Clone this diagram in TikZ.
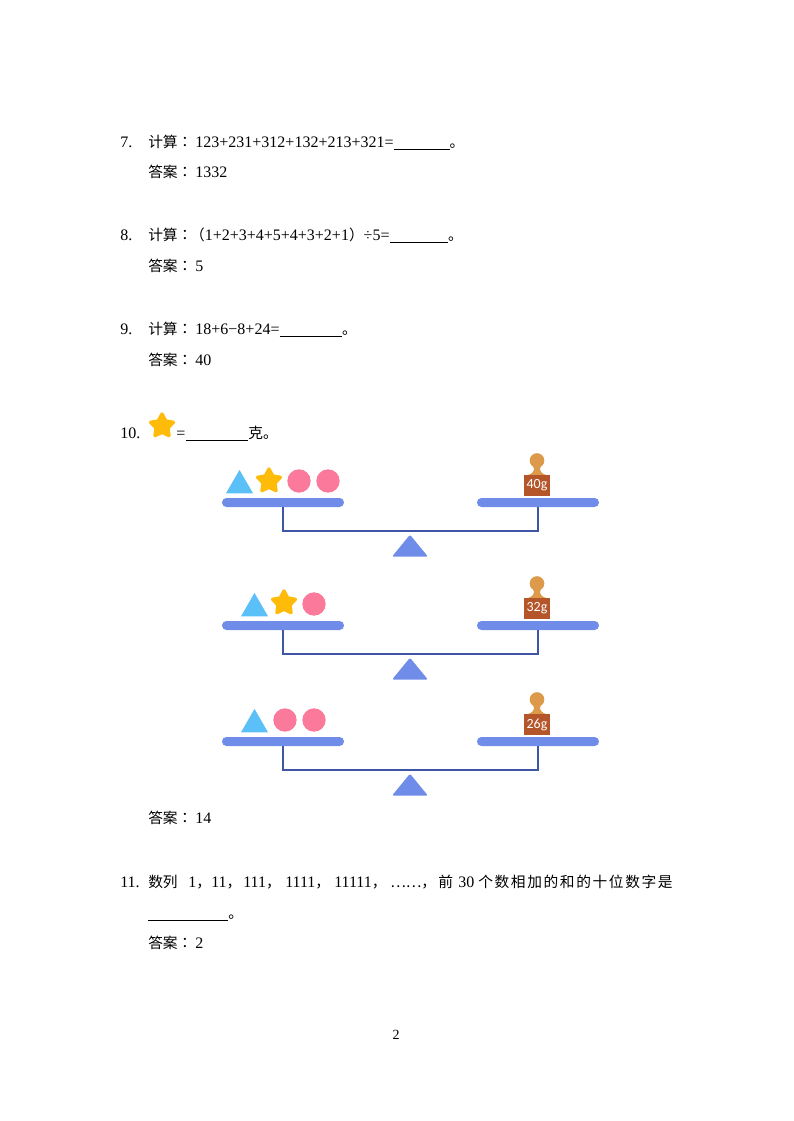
\documentclass[tikz,border=0pt]{standalone}
\usepackage{fontspec}
\setmainfont{Liberation Serif}
\newfontfamily\cjk[Scale=0.92]{Noto Sans CJK SC}
\newfontfamily\cjkwide[Scale=0.92,LetterSpace=11]{Noto Sans CJK SC}
\newfontfamily\cjkcolon[Scale=0.92]{Noto Sans CJK TC}
\newfontfamily\weightfont{Carlito}
\usetikzlibrary{shapes, positioning}
\definecolor{panblue}{HTML}{6F8CE8}
\definecolor{armblue}{HTML}{3F56A6}
\definecolor{skyblue}{HTML}{5BC0F8}
\definecolor{stargold}{HTML}{FFBB0A}
\definecolor{ballpink}{HTML}{FB7A9C}
\definecolor{boxbrown}{HTML}{B5562A}
\definecolor{headgold}{HTML}{DC9A4A}
\newcommand{\zh}[1]{{\cjk #1}}
\newcommand{\zhcolon}{{\cjkcolon ：}\hspace{2.25pt}}
\newcommand{\blank}[1]{\underline{\hspace{#1}}}
\tikzstyle{txt} = [anchor=base west, inner sep=0pt, font=\fontsize{12pt}{14pt}\selectfont]
\tikzstyle{pan} = [rectangle, rounded corners=3.3pt, minimum width=91.5pt, minimum height=6.75pt, inner sep=0pt, fill=panblue]
\tikzstyle{arm} = [draw=armblue, line width=1.5pt]
\tikzstyle{pivot} = [isosceles triangle, isosceles triangle stretches, shape border rotate=90, minimum width=27pt, minimum height=16.5pt, inner sep=0pt, rounded corners=1.5pt, fill=panblue]
\tikzstyle{tri} = [regular polygon, regular polygon sides=3, minimum size=23.4pt, inner sep=0pt, fill=skyblue]
\tikzstyle{starry} = [star, star points=5, star point ratio=1.9, minimum size=18pt, inner sep=0pt, fill=stargold, draw=stargold, line width=2.5pt, line join=round]
\tikzstyle{ball} = [circle, minimum size=17.5pt, inner sep=0pt, fill=ballpink]
\tikzstyle{weightbox} = [rectangle, minimum width=19.5pt, minimum height=15.5pt, inner sep=0pt, fill=boxbrown, text=white, font=\weightfont\fontsize{10.5pt}{11pt}\selectfont]
\tikzstyle{head} = [circle, minimum size=11pt, inner sep=0pt, fill=headgold]

\begin{document}
\begin{tikzpicture}[x=0.75pt, y=-0.75pt]
    \useasboundingbox (0, 0) rectangle (793, 1121);

    % questions 7 to 9
    \node (num7) [txt] at (120, 147) {7.};
    \node (line7) [txt] at (148, 147) {\zh{计算}\zhcolon 123+231+312+132+213+321=\blank{42pt}\zh{。}};
    \node (ans7) [txt] at (148, 177) {\zh{答案}\zhcolon 1332};

    \node (num8) [txt] at (120, 240) {8.};
    \node (line8) [txt] at (148, 240) {\zh{计算}\zhcolon\kern-4pt\zh{（}1+2+3+4+5+4+3+2+1\zh{）}÷5=\blank{44pt}\zh{。}};
    \node (ans8) [txt] at (148, 271) {\zh{答案}\zhcolon 5};

    \node (num9) [txt] at (120, 334) {9.};
    \node (line9) [txt] at (148, 334) {\zh{计算}\zhcolon 18+6−8+24=\blank{47pt}\zh{。}};
    \node (ans9) [txt] at (148, 365) {\zh{答案}\zhcolon 40};

    % question 10
    \node (num10) [txt] at (120, 438) {10.};
    \node (star0) [starry] at (162, 426) {};
    \node (line10) [txt] at (176, 438) {=\kern.75pt\blank{46.5pt}\zh{克。}};

    % the three balances
    \foreach \y/\grams in {498/40g, 621/32g, 737/26g} {
        \node (panL\y) [pan] at (283, \y+4.5) {};
        \node (panR\y) [pan] at (538, \y+4.5) {};
        \draw [arm] (panL\y.south) -- ++(0, 24) -| (panR\y.south);
        \node (pivot\y) [pivot, anchor=apex] at (410, \y+36) {};

        \fill [headgold] (528, \y-23) .. controls (532, \y-24) and (534, \y-27) .. (534, \y-29)
            .. controls (534, \y-31) and (532, \y-33) .. (532, \y-34) -- (542, \y-34)
            .. controls (542, \y-33) and (540, \y-31) .. (540, \y-29)
            .. controls (540, \y-27) and (542, \y-24) .. (546, \y-23) -- cycle;
        \node (head\y) [head] at (537, \y-37.5) {};
        \node (box\y) [weightbox] at (537, \y-12.5) {\grams};
    }

    % what stands on the left pans
    \node (tri1) [tri] at (239.5, 485.5) {};
    \node (star1) [starry] at (269, 481) {};
    \node (ball1) [ball] at (299, 481) {};
    \node (ball2) [ball] at (328, 481) {};

    \node (tri2) [tri] at (254.5, 608.5) {};
    \node (star2) [starry] at (284, 603) {};
    \node (ball3) [ball] at (314, 604) {};

    \node (tri3) [tri] at (254.5, 724.5) {};
    \node (ball4) [ball] at (285, 720) {};
    \node (ball5) [ball] at (314, 720) {};

    % answer and question 11
    \node (ans10) [txt] at (148, 823) {\zh{答案}\zhcolon 14};
    \node (num11) [txt] at (120, 887) {11.};
    \node (line11) [txt] at (148, 887) {\zh{数列}};
    \foreach \x/\part in {188/1, 211/11, 243/111, 285/1111, 334/11111} {
        \node (seq\x) [txt] at (\x, 887) {\part\zh{，}};
    }
    \node (dots11) [txt] at (390, 887) {\zh{……，}};
    \node (front11) [txt] at (438, 887) {\zh{前}};
    \node (count11) [txt] at (458, 887) {30};
    \node (rest11) [txt] at (478, 887) {{\cjkwide 个数相加的和的十位数字是}};
    \node (line11b) [txt] at (148, 918) {\blank{60pt}\zh{。}};
    \node (ans11) [txt] at (148, 948) {\zh{答案}\zhcolon 2};

    \node (page) [txt, anchor=base, font=\fontsize{10.5pt}{12pt}\selectfont] at (396, 1039) {2};

\end{tikzpicture}
\end{document}
